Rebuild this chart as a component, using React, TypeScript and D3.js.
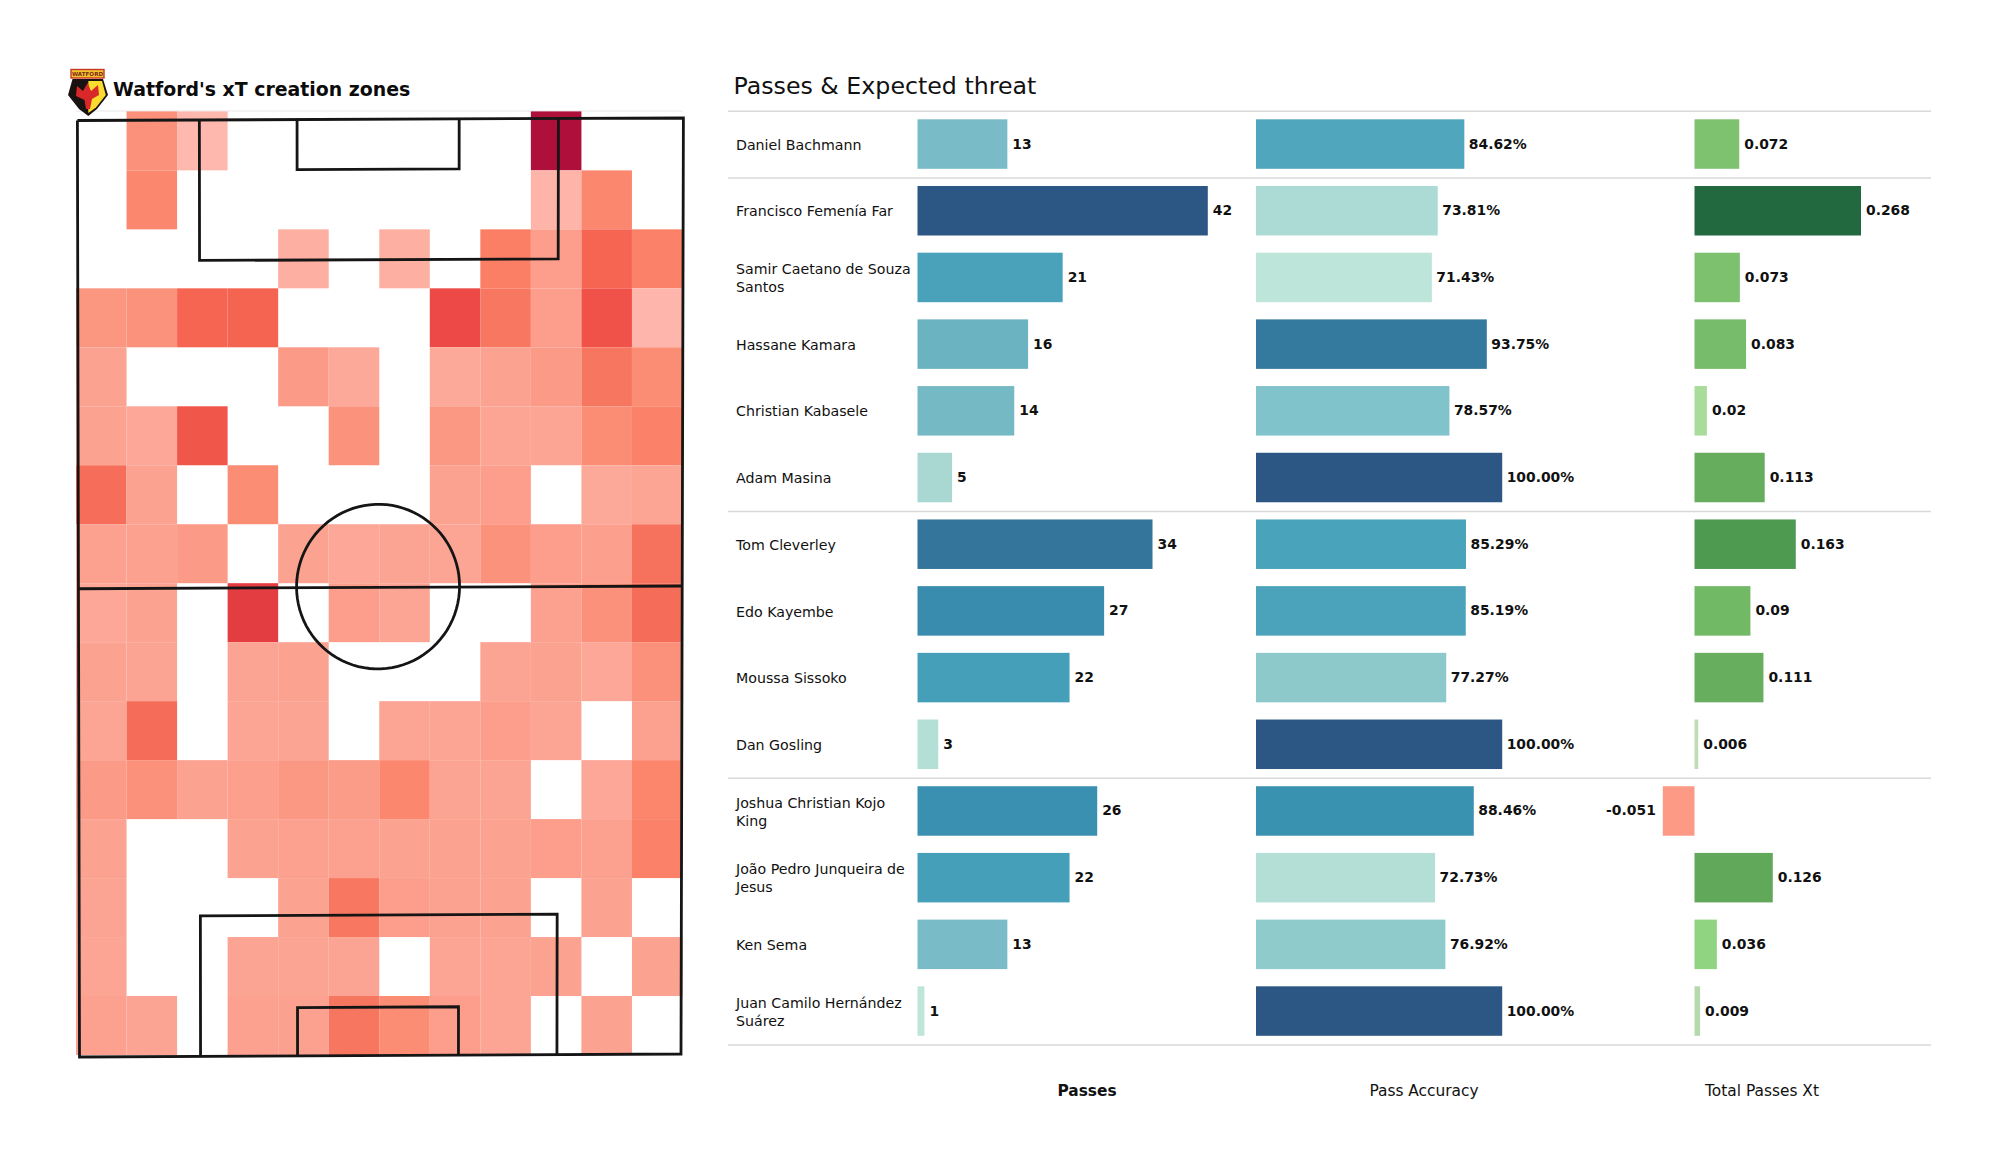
import React from "react";
import * as d3 from "d3";

const _ = null;
const heatRow00 = [_, .28, .05, _, _, _, _, _, _, 1, _, _];
const heatRow01 = [_, .33, _, _, _, _, _, _, _, .07, .33, _];
const heatRow02 = [_, _, _, _, .1, _, .1, _, .38, .2, .52, .36];
const heatRow03 = [.25, .27, .52, .53, _, _, _, .66, .42, .2, .62, .06];
const heatRow04 = [.17, _, _, _, .22, .13, _, .13, .17, .22, .43, .3];
const heatRow05 = [.17, .14, .6, _, _, .27, _, .24, .15, .15, .3, .36];
const heatRow06 = [.47, .17, _, .3, _, _, _, .17, .2, _, .13, .15];
const heatRow07 = [.18, .18, .22, _, .17, .14, .16, .15, .27, .2, .19, .45];
const heatRow08 = [.14, .17, _, .74, _, .2, .15, _, _, .18, .28, .48];
const heatRow09 = [.17, .16, _, .16, .17, _, _, _, .16, .17, .14, .28];
const heatRow10 = [.15, .48, _, .15, .16, _, .15, .15, .2, .15, _, .18];
const heatRow11 = [.22, .28, .17, .19, .24, .21, .33, .16, .16, _, .14, .34];
const heatRow12 = [.17, _, _, .17, .18, .18, .17, .17, .17, .2, .18, .36];
const heatRow13 = [.16, _, _, _, .17, .42, .2, .17, .17, _, .17, _];
const heatRow14 = [.15, _, _, .16, .16, .16, _, .15, .15, .17, _, .17];
const heatRow15 = [.18, .16, _, .18, .18, .43, .3, .2, .15, _, .17, _];
const heatRows = [heatRow00, heatRow01, heatRow02, heatRow03, heatRow04, heatRow05, heatRow06, heatRow07,
  heatRow08, heatRow09, heatRow10, heatRow11, heatRow12, heatRow13, heatRow14, heatRow15];

const players = ["Daniel Bachmann", "Francisco Femenía Far", "Samir Caetano de Souza|Santos", "Hassane Kamara",
  "Christian Kabasele", "Adam Masina", "Tom Cleverley", "Edo Kayembe", "Moussa Sissoko", "Dan Gosling",
  "Joshua Christian Kojo|King", "João Pedro Junqueira de|Jesus", "Ken Sema", "Juan Camilo Hernández|Suárez"];
const passes = [13, 42, 21, 16, 14, 5, 34, 27, 22, 3, 26, 22, 13, 1];
const accuracy = [84.62, 73.81, 71.43, 93.75, 78.57, 100, 85.29, 85.19, 77.27, 100, 88.46, 72.73, 76.92, 100];
const xt = [0.072, 0.268, 0.073, 0.083, 0.02, 0.113, 0.163, 0.09, 0.111, 0.006, -0.051, 0.126, 0.036, 0.009];
const separatorsAfter = [-1, 0, 5, 9, 13];
const columnTitles = ["Passes", "Pass Accuracy", "Total Passes Xt"];

const heatColor = d3.scaleLinear<string>()
  .domain([0.05, 0.15, 0.25, 0.35, 0.45, 0.55, 0.65, 0.75, 1])
  .range(["#feb8ae", "#fca595", "#fb9681", "#fb8469", "#f6725c", "#f4604e", "#ee4c48", "#e23a40", "#ae0f3b"]);
const blueColor = d3.scaleLinear<string>()
  .domain([0, .1, .2, .25, .3, .37, .49, .6, .8, 1])
  .range(["#bee5da", "#a8d8d3", "#8ecaca", "#80c3cb", "#78bbc6", "#6ab3c1", "#48a2ba", "#3a91b1", "#33769c", "#2c5784"]);
const greenColor = d3.scaleLinear<string>()
  .domain([0.006, 0.009, 0.02, 0.036, 0.073, 0.09, 0.113, 0.126, 0.163, 0.268])
  .range(["#bfdcb5", "#b5d8ad", "#a9dc9a", "#90d481", "#7dc16f", "#72b966", "#66ae5e", "#62a85a", "#4d9a50", "#22693f"]);

const corner = { tl: [77.4, 120.5], tr: [683.4, 118], bl: [79.5, 1057], br: [681, 1054] };
const pt = (x: number, y: number) => {
  const u = x / 80, v = y / 120;
  const topX = corner.tl[0] + (corner.tr[0] - corner.tl[0]) * u, topY = corner.tl[1] + (corner.tr[1] - corner.tl[1]) * u;
  const botX = corner.bl[0] + (corner.br[0] - corner.bl[0]) * u, botY = corner.bl[1] + (corner.br[1] - corner.bl[1]) * u;
  return [topX + (botX - topX) * v, topY + (botY - topY) * v] as [number, number];
};
const pitchLines: [number, number][][] = [
  [[0, 0], [80, 0], [80, 120], [0, 120], [0, 0]],
  [[0, 60], [80, 60]],
  [[16.1, 0], [16.1, 18], [63.5, 18], [63.5, 0]],
  [[29, 0], [29, 6.4], [50.4, 6.4], [50.4, 0]],
  [[16.1, 120], [16.1, 102], [63.5, 102], [63.5, 120]],
  [[29, 120], [29, 113.8], [50.4, 113.8], [50.4, 120]],
];
const line = d3.line<[number, number]>();
const circlePts = d3.range(0, 361, 4).map((a) => {
  const r = (a * Math.PI) / 180;
  return pt(39.7 + 10.8 * Math.cos(r), 59.9 + 10.55 * Math.sin(r));
});

const xCell = d3.scaleLinear().domain([0, 12]).range([76, 682.5]);
const yCell = d3.scaleLinear().domain([0, 16]).range([111.4, 1055]);

const xPass = d3.scaleLinear().domain([0, 42]).range([917.5, 1207.8]);
const xAcc = d3.scaleLinear().domain([0, 100]).range([1256, 1502.2]);
const xXt = d3.scaleLinear().domain([0, 0.268]).range([1694.5, 1861]);
const rowY = d3.scaleLinear().domain([0, 13]).range([119.3, 986.3]);
const barH = 49.5;

const FONT = "'DejaVu Sans', sans-serif";

function Bars({ values, x, color, fmt, gap }: any) {
  return (
    <g>
      {values.map((v: number, i: number) => {
        const x0 = x(0), x1 = x(v);
        const y = rowY(i);
        return (
          <g key={i}>
            <rect x={Math.min(x0, x1)} y={y} width={Math.abs(x1 - x0)} height={barH} fill={color(v)} />
            <text x={v < 0 ? x1 - 7 : x1 + gap} y={y + barH / 2 - 0.5} dy="0.36em" textAnchor={v < 0 ? "end" : "start"}
              fontFamily={FONT} fontWeight="bold" fontSize={13.9} fill="#111">{fmt(v)}</text>
          </g>
        );
      })}
    </g>
  );
}

export default function App() {
  const passT = d3.scaleLinear().domain([1, 42]).range([0, 1]);
  const accT = d3.scaleLinear().domain([71.43, 100]).range([0, 1]);
  const titleCx = [1087, 1424, 1762];
  return (
    <svg width={2000} height={1175} style={{ position: "absolute", left: 0, top: 0, display: "block", background: "#fff" }}>
      <line x1={76} x2={682} y1={111} y2={111} stroke="#e6e6e6" strokeWidth={1} />
      <g>
        {heatRows.map((row, r) => row.map((v, c) => v == null ? null : (
          <rect key={`${r}-${c}`} x={xCell(c)} y={yCell(r)} width={xCell(c + 1) - xCell(c)} height={yCell(r + 1) - yCell(r)} fill={heatColor(v)} />
        )))}
      </g>
      <g fill="none" stroke="#151515" strokeWidth={2.8}>
        {pitchLines.map((l, i) => <path key={i} d={line(l.map(([a, b]) => pt(a, b))) as string} />)}
        <path d={line(circlePts) as string} />
      </g>
      <text x={113} y={95.5} fontFamily={FONT} fontWeight="bold" fontSize={18.9} fill="#0b0b0b">Watford's xT creation zones</text>
      <g>
        <path d="M72.5 79 L103 79 L108 95 L97 109 L88.3 116 L79 109 L68 95 Z" fill="#1a1210" />
        <path d="M88.3 81 L102 81 L105.8 95 L96 107.5 L88.3 113 Z" fill="#fbdc2e" />
        <path d="M77 86 L83 91 L87.5 83 L91 91 L98 85 L99 95 L92 99 L90 109 L86 109 L84.5 100 L76 96 Z" fill="#d8282a" />
        <rect x={71} y={69.5} width={33} height={8.5} fill="#f3c52c" stroke="#c9362a" strokeWidth={1.4} />
        <text x={87.5} y={76} textAnchor="middle" fontFamily={FONT} fontWeight="bold" fontSize={5.6} fill="#7a2a1a">WATFORD</text>
      </g>

      <text x={733.5} y={94} fontFamily={FONT} fontSize={23.7} fill="#111">Passes &amp; Expected threat</text>
      {separatorsAfter.map((a) => {
        const y = rowY(a + 1) - 8;
        return <line key={a} x1={728} x2={1931} y1={y} y2={y} stroke="#d9d9d9" strokeWidth={1.5} />;
      })}
      {players.map((p, i) => {
        const cy = rowY(i) + barH / 2 + 0.5;
        const parts = p.split("|");
        return (
          <text key={p} fontFamily={FONT} fontSize={14.2} fill="#111">
            {parts.map((t, k) => (
              <tspan key={k} x={736} y={cy + (k - (parts.length - 1) / 2) * 18} dy="0.36em">{t}</tspan>
            ))}
          </text>
        );
      })}
      <Bars values={passes} x={xPass} color={(v: number) => blueColor(passT(v))} fmt={(v: number) => String(v)} gap={5} />
      <Bars values={accuracy} x={xAcc} color={(v: number) => blueColor(accT(v))} fmt={(v: number) => v.toFixed(2) + "%"} gap={4.5} />
      <Bars values={xt} x={xXt} color={(v: number) => v < 0 ? "#fc9a86" : greenColor(v)} fmt={(v: number) => String(v)} gap={5} />
      {columnTitles.map((t, i) => (
        <text key={t} x={titleCx[i]} y={1090} dy="0.36em" textAnchor="middle" fontFamily={FONT}
          fontWeight={i === 0 ? "bold" : "normal"} fontSize={15.4} fill="#111">{t}</text>
      ))}
    </svg>
  );
}
